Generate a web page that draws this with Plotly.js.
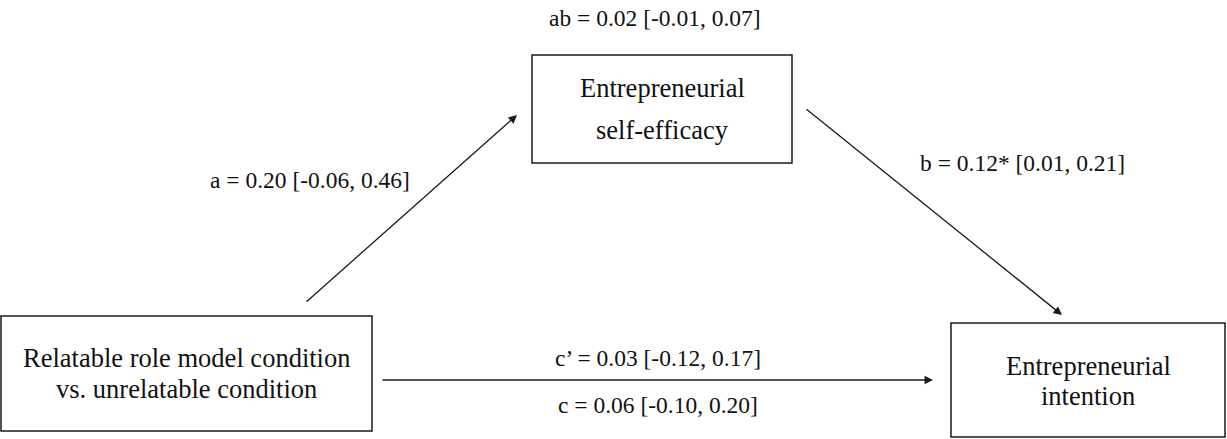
<!DOCTYPE html>
<html>
<head>
<meta charset="utf-8">
<script src="https://cdn.plot.ly/plotly-3.0.1.min.js"></script>
<style>
  html, body { margin: 0; padding: 0; background: #fff; }
  #chart { width: 1227px; height: 439px; }
</style>
</head>
<body>
<div id="chart"></div>
<script>
// ---- data ----
const pathNames   = ['a', 'b', 'c\u2019', 'c', 'ab'];
const estimates   = [0.20, 0.12, 0.03, 0.06, 0.02];
const ciLower     = [-0.06, 0.01, -0.12, -0.10, -0.01];
const ciUpper     = [0.46, 0.21, 0.17, 0.20, 0.07];
const significant = [false, true, false, false, false];

const predictorLines = ['Relatable role model condition', 'vs. unrelatable condition'];
const mediatorLines  = ['Entrepreneurial', 'self-efficacy'];
const outcomeLines   = ['Entrepreneurial', 'intention'];

// ---- layout helpers ----
const W = 1227, H = 439;
const ink = '#1a1a1a';
const serif = 'Liberation Serif';

function pathLabel(i) {
  return pathNames[i] + ' = ' + estimates[i].toFixed(2) + (significant[i] ? '*' : '') +
         ' [' + ciLower[i].toFixed(2) + ', ' + ciUpper[i].toFixed(2) + ']';
}

function box(x0, y0, x1, y1) {
  return { type: 'rect', xref: 'x', yref: 'y', x0: x0, y0: y0, x1: x1, y1: y1,
           line: { color: ink, width: 1.5 }, fillcolor: 'rgba(0,0,0,0)' };
}

function txt(text, x, y, size) {
  return { text: text, x: x, y: y, xref: 'x', yref: 'y', showarrow: false,
           xanchor: 'center', yanchor: 'middle',
           font: { family: serif, size: size, color: '#111' } };
}

function arrow(x0, y0, x1, y1) {
  return { x: x1, y: y1, ax: x0, ay: y0, xref: 'x', yref: 'y', axref: 'x', ayref: 'y',
           text: '', showarrow: true, arrowhead: 2, arrowsize: 1.3, arrowwidth: 1.3,
           arrowcolor: ink, standoff: 0, startstandoff: 0 };
}

const shapes = [
  box(1, 316, 372, 431),
  box(532, 55, 792, 163),
  box(951, 323, 1225, 437)
];

const boxFont = 26.5, labFont = 23.5;

const annotations = [
  arrow(305, 303, 517, 115),
  arrow(805, 108, 1062, 315),
  arrow(381, 380, 933, 380),

  txt(predictorLines[0], 186, 358, boxFont),
  txt(predictorLines[1], 186, 389, boxFont),
  txt(mediatorLines[0], 662, 88, boxFont),
  txt(mediatorLines[1], 662, 130, boxFont),
  txt(outcomeLines[0], 1088, 366, boxFont),
  txt(outcomeLines[1], 1088, 396, boxFont),

  txt(pathLabel(0), 310, 180, labFont),
  txt(pathLabel(1), 1022, 163, labFont),
  txt(pathLabel(2), 658, 358, labFont),
  txt(pathLabel(3), 658, 405, labFont),
  txt(pathLabel(4), 655, 18, labFont)
];

const layout = {
  width: W, height: H,
  margin: { l: 0, r: 0, t: 0, b: 0, pad: 0 },
  paper_bgcolor: '#fff', plot_bgcolor: '#fff',
  showlegend: false,
  xaxis: { range: [0, W], visible: false, fixedrange: true },
  yaxis: { range: [H, 0], visible: false, fixedrange: true },
  shapes: shapes,
  annotations: annotations
};

Plotly.newPlot('chart', [], layout, { displayModeBar: false, staticPlot: true });
</script>
</body>
</html>
